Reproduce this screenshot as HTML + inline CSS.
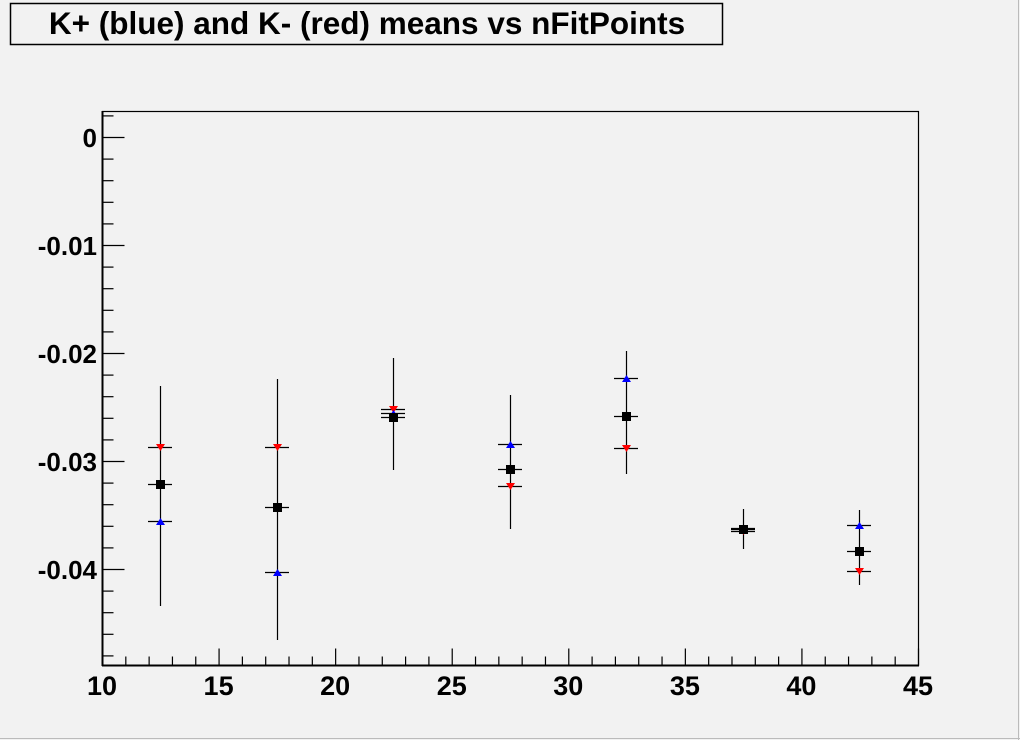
<!DOCTYPE html>
<html><head><style>
html,body{margin:0;padding:0;background:#f2f2f2;}
svg{display:block;font-family:"Liberation Sans",Arial,sans-serif;font-weight:bold;}
</style></head><body>
<svg width="1020" height="740" viewBox="0 0 1020 740" xmlns="http://www.w3.org/2000/svg">
<rect x="0" y="0" width="1020" height="740" fill="#f2f2f2"/>
<line x1="1018.5" y1="0" x2="1018.5" y2="740" stroke="#bbb"/>
<line x1="0" y1="738.5" x2="1020" y2="738.5" stroke="#bbb"/>
<rect x="10.5" y="3.5" width="712" height="41" fill="#f2f2f2" stroke="#000" stroke-width="1.5"/>
<text x="367" y="34" font-size="31.5" text-anchor="middle">K+ (blue) and K- (red) means vs nFitPoints</text>
<rect x="102.5" y="111.5" width="816" height="554" fill="none" stroke="#000" stroke-width="1.2"/>
<line x1="102.5" y1="111" x2="102.5" y2="666" stroke="#000" stroke-width="2"/>
<line x1="102" y1="665.5" x2="919" y2="665.5" stroke="#000" stroke-width="2"/>
<g stroke="#000" stroke-width="1.2" id="ticks"></g>
<g font-size="26" text-anchor="end">
<text x="97" y="147">0</text>
<text x="97" y="255">-0.01</text>
<text x="97" y="363">-0.02</text>
<text x="97" y="471">-0.03</text>
<text x="97" y="579">-0.04</text>
</g>
<g font-size="27" text-anchor="middle" id="xl"></g>
<g id="pts"></g>
</svg>
<script>
const ns="http://www.w3.org/2000/svg";
function el(p,t,a){const e=document.createElementNS(ns,t);for(const k in a)e.setAttribute(k,a[k]);p.appendChild(e);return e;}
const T=document.getElementById('ticks');
const X=v=>102+(v-10)*816/35;
const Y=v=>137-v*10800;
for(let v=10;v<=45;v++){const x=X(v)+0.5;const L=v%5==0?17:9;el(T,'line',{x1:x,y1:665.5,x2:x,y2:665.5-L});}
const XL=document.getElementById('xl');
for(let v=10;v<=45;v+=5){const t=el(XL,'text',{x:X(v),y:695});t.textContent=v;}
for(let i=-24;i<=1;i++){const v=i*0.002;const y=Y(v)+0.5;if(y<111||y>665)continue;const L=i%5==0?22:11;el(T,'line',{x1:102.5,y1:y,x2:102.5+L,y2:y});}
const P=document.getElementById('pts');
const data=[[160,447,484,521,386,606],[277,447,507,572,379,640],[393,409,417,413,358,470],[510,486,469,444,395,529],[626,448,416,378,351,474],[743,531,529,528,509,549],[859,571,551,525,510,585]];
for(const d of data){const[x,r,k,b,y1,y2]=d;
el(P,'line',{x1:x+.5,y1:y1,x2:x+.5,y2:y2,stroke:'#000','stroke-width':1.2});
for(const y of [r,k,b])el(P,'line',{x1:x-12,y1:y+.5,x2:x+12,y2:y+.5,stroke:'#000','stroke-width':1.2});
el(P,'polygon',{points:`${x-4},${r-3} ${x+5},${r-3} ${x+.5},${r+4}`,fill:'#f00'});
el(P,'polygon',{points:`${x-4},${b+4} ${x+5},${b+4} ${x+.5},${b-3}`,fill:'#00f'});
el(P,'rect',{x:x-4,y:k-4,width:9,height:9,fill:'#000'});
}
</script>
</body></html>
